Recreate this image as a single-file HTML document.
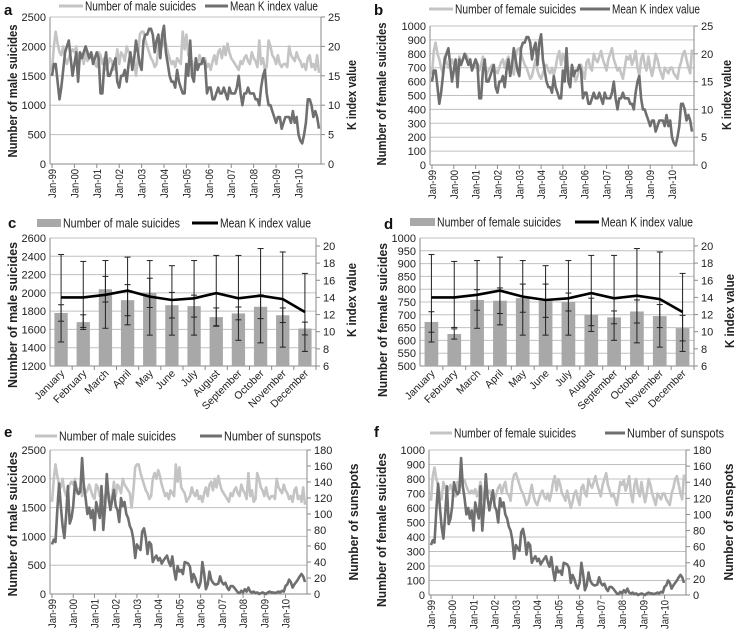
<!DOCTYPE html>
<html><head><meta charset="utf-8"><style>
html,body{margin:0;padding:0;background:#fff}
svg{display:block;font-family:"Liberation Sans",sans-serif}
</style></head><body>
<svg id="fig" width="738" height="636" viewBox="0 0 738 636"></svg>
<script>
const kIndex=[15,17,17,14,11,13,16,19,20,21,18,15,17,19,14,19,18,19,20,19,18,19,17,18,19,18,12,12,17,19,15,15,16,17,18,14,13,15,15,16,14,17,19,16,18,21,19,17,16,21,22,22,23,23,22,19,21,22,18,22,23.5,19,17,15,14,14,13,16,14,13,12,12,17,15,21,15,14,18,16,17,17,18,17,12,13,13,11,11,12,13,12,12,13,12,11,13,12,12,12,13,15,12,10,12,12,13,12,12,12,11,11,10,13,15,16,12,10,10,9,8,7,8,8,6,7,8,8,8,7,9,7,8,5,4,3.5,5,7,11,11,10,8,9,8,6];
const maleSuicides=[1600,2000,2250,2050,1900,1850,2000,1800,1700,1800,1900,1950,1900,2000,1750,1800,1850,1700,1900,1750,1800,1900,1800,1700,1650,1900,1850,1700,1800,1600,1700,1800,1750,1600,1700,1950,1700,1900,1850,1750,2000,1900,1850,1800,1750,1500,1800,2200,2250,2250,2100,2000,1900,1800,1750,1650,1700,2000,2100,2000,2150,2050,1900,1800,1700,1750,1650,1800,1750,1700,2250,1950,2200,1850,1800,1750,1600,1650,1700,1850,1750,1700,1800,1650,1700,1600,1750,1850,1700,1900,1950,1800,2000,1850,2050,1900,1800,1750,1700,1650,1600,1750,1700,1800,1850,1750,1700,1900,1800,1750,1650,2100,1700,1800,1600,1650,2100,2000,1850,1800,1700,1850,1700,1650,1700,1700,1650,2000,1850,1800,1750,1900,1800,1750,1650,1700,1600,1800,1850,1650,1700,1600,1850,1550];
const femaleSuicides=[650,820,880,800,760,700,660,780,740,700,730,760,720,700,680,780,740,760,800,790,750,720,700,720,700,730,680,720,780,700,650,680,700,720,690,680,660,700,740,760,700,750,780,700,690,650,780,830,840,800,760,720,700,660,620,640,700,760,680,640,620,660,700,720,680,660,700,650,700,780,820,720,800,760,700,680,650,720,660,600,640,700,720,660,620,740,760,700,680,800,760,740,780,820,760,720,680,760,800,840,760,720,680,700,660,620,700,780,760,790,720,760,820,700,640,760,800,720,680,780,700,640,700,800,760,700,660,620,700,680,660,700,700,660,640,620,700,740,800,820,760,700,660,830];
const sunspots=[62,68,65,105,138,110,85,70,100,135,88,95,110,140,130,125,128,170,135,120,100,108,95,105,80,115,105,95,135,80,110,150,120,105,118,130,110,105,90,120,110,115,100,95,85,80,68,45,62,58,55,78,82,70,50,65,62,40,45,48,42,45,38,42,45,48,40,35,47,30,18,35,28,30,25,40,39,38,34,15,25,20,12,8,15,40,25,6,12,28,18,14,12,12,13,22,15,12,14,8,5,10,10,8,5,2,1,4,2,6,3,8,3,2,3,1,2,0,1,2,1,0,2,3,2,2,1,2,3,2,4,3,10,12,18,15,8,12,15,18,22,25,22,15];
const yearLabels=["Jan-99","Jan-00","Jan-01","Jan-02","Jan-03","Jan-04","Jan-05","Jan-06","Jan-07","Jan-08","Jan-09","Jan-10"];
const months=["January","February","March","April","May","June","July","August","September","October","November","December"];
const maleMonthly=[1780,1680,2040,1920,2000,1865,1855,1735,1775,1848,1755,1610];
const maleMonthlySd=[90,80,140,170,160,140,120,100,70,130,80,70];
const femaleMonthly=[672,625,758,755,765,755,750,700,690,713,695,648];
const femaleMonthlySd=[40,20,40,50,55,65,35,65,25,45,45,50];
const kMonthly=[14,14,14.3,14.8,14.1,13.7,13.9,14.5,13.9,14.2,13.8,12.3];
const kMonthlyHi=[19,18.2,18.3,18.7,18.3,17.7,18.3,18.9,18.9,19.7,19.3,16.8];
const kMonthlyLo=[8.8,10.5,10.4,10.8,9.6,9.6,9.6,10.7,9,8.7,8.2,7.7];

const NS="http://www.w3.org/2000/svg";
const svg=document.getElementById('fig');
function mk(tag,attrs,parent){const e=document.createElementNS(NS,tag);for(const k in attrs)e.setAttribute(k,attrs[k]);(parent||svg).appendChild(e);return e;}
function txt(s,attrs,parent){const e=mk('text',attrs,parent);e.textContent=s;return e;}
const LIGHT="#c4c4c4",DARK="#6f6f6f",GRID="#c0c0c0",AX="#8a8a8a";

function axesFrame(g,p){
  p.lt.forEach(v=>{const y=p.yl(v);
    if(v!==p.lmin){const gl=mk('line',{x1:p.x0,x2:p.x1,y1:y,y2:y,stroke:GRID,'stroke-width':1},g);
    }
    const t=txt(String(v),{x:p.x0-4,y:y+4,'text-anchor':'end','font-size':11,fill:'#222'},g);
    });
  p.rt.forEach(v=>{const y=p.yr(v);
    mk('line',{x1:p.x1,x2:p.x1+4,y1:y,y2:y,stroke:AX},g);
    const t=txt(String(v),{x:p.x1+7,y:y+4,'font-size':11,fill:'#222'},g);
    });
  const la=mk('line',{x1:p.x0,x2:p.x0,y1:p.y0,y2:p.y1,stroke:AX},g);
  
  const ra=mk('line',{x1:p.x1,x2:p.x1,y1:p.y0,y2:p.y1,stroke:AX},g);
  
  const ba=mk('line',{x1:p.x0,x2:p.x1,y1:p.y1,y2:p.y1,stroke:AX},g);
  
  const lt=txt(p.ltitle,{transform:`translate(${p.ltx},${p.lty}) rotate(-90)`,'text-anchor':'middle','font-size':13,'font-weight':'bold',fill:'#222',textLength:p.ltl,lengthAdjust:'spacingAndGlyphs'},g);
  
  const rtt=txt(p.rtitle,{transform:`translate(${p.rtx},${p.rty}) rotate(-90)`,'text-anchor':'middle','font-size':13,'font-weight':'bold',fill:'#222',textLength:p.rtl,lengthAdjust:'spacingAndGlyphs'},g);
  
  const pl=txt(p.letter,{x:p.lx,y:p.ly,'font-size':15,'font-weight':'bold',fill:'#111'},g);
  
}
function legend(g,items){
  items.forEach(it=>{
    const lg=mk('g',{},g);
    
    if(it.bar) mk('rect',{x:it.x,y:it.y-4,width:it.w,height:8,fill:it.c},lg);
    else mk('line',{x1:it.x,x2:it.x+it.w,y1:it.y,y2:it.y,stroke:it.c,'stroke-width':3},lg);
    txt(it.t,{x:it.x+it.w+2,y:it.y+4.5,'font-size':12.5,fill:'#222',textLength:it.tl,lengthAdjust:'spacingAndGlyphs'},lg);
  });
}
function series(g,vals,xf,yf,c,name){
  const d=vals.map((v,i)=>(i?'L':'M')+xf(i).toFixed(1)+','+yf(v).toFixed(1)).join('');
  const pth=mk('path',{d:d,fill:'none',stroke:c,'stroke-width':2.6,'stroke-linejoin':'round'},g);
  
}
function tsPanel(p){
  const g=mk('g',{});
  p.yl=v=>p.y1-(v-p.lmin)/(p.lmax-p.lmin)*(p.y1-p.y0);
  p.yr=v=>p.y1-(v-p.rmin)/(p.rmax-p.rmin)*(p.y1-p.y0);
  const n=p.s1.length, xf=i=>p.x0+2+i*(p.x1-p.x0-4)/(n-1);
  axesFrame(g,p);
  yearLabels.forEach((s,k)=>{const x=xf(k*12);
    mk('line',{x1:x,x2:x,y1:p.y1,y2:p.y1+4,stroke:AX},g);
    const t=txt(s,{transform:`translate(${x+4},${p.y1+5}) rotate(-90)`,'text-anchor':'end','font-size':11,fill:'#222',textLength:29,lengthAdjust:'spacingAndGlyphs'},g);
    });
  series(g,p.s1,xf,p.yl,LIGHT,p.n1);series(g,p.s2,xf,p.yr,DARK,p.n2);
  legend(g,p.leg);
}
function barPanel(p){
  const g=mk('g',{});
  p.yl=v=>p.y1-(v-p.lmin)/(p.lmax-p.lmin)*(p.y1-p.y0);
  p.yr=v=>p.y1-(v-p.rmin)/(p.rmax-p.rmin)*(p.y1-p.y0);
  axesFrame(g,p);
  const bw=(p.x1-p.x0)/12, xc=i=>p.x0+bw*(i+0.5);
  p.bars.forEach((v,i)=>{
    const r=mk('rect',{x:xc(i)-bw*0.3,y:p.yl(v),width:bw*0.6,height:p.y1-p.yl(v),fill:'#a8a8a8'},g);
    
  });
  const eb=(x,a,b)=>{mk('line',{x1:x,x2:x,y1:a,y2:b,stroke:'#222','stroke-width':1},g);
    mk('line',{x1:x-3,x2:x+3,y1:a,y2:a,stroke:'#222'},g);mk('line',{x1:x-3,x2:x+3,y1:b,y2:b,stroke:'#222'},g);};
  p.bars.forEach((v,i)=>{eb(xc(i),p.yl(v-p.sd[i]),p.yl(v+p.sd[i]));eb(xc(i),p.yr(kMonthlyLo[i]),p.yr(kMonthlyHi[i]));});
  const d=kMonthly.map((v,i)=>(i?'L':'M')+xc(i).toFixed(1)+','+p.yr(v).toFixed(1)).join('');
  const kl=mk('path',{d:d,fill:'none',stroke:'#000','stroke-width':2.6},g);
  
  months.forEach((m,i)=>{const x=xc(i);
    mk('line',{x1:p.x0+bw*(i+1),x2:p.x0+bw*(i+1),y1:p.y1,y2:p.y1+4,stroke:AX},g);
    const t=txt(m,{transform:`translate(${x+4},${p.y1+8}) rotate(-45)`,'text-anchor':'end','font-size':10.5,fill:'#222'},g);
    });
  legend(g,p.leg);
}
tsPanel({letter:'a',lx:4,ly:15,x0:50,x1:321,y0:17,y1:164,lmin:0,lmax:2500,lt:[0,500,1000,1500,2000,2500],rmin:0,rmax:25,rt:[0,5,10,15,20,25],
 s1:maleSuicides,s2:kIndex,n1:'male-suicides-line',n2:'k-index-line',ltitle:'Number of male suicides',ltx:17,lty:91,ltl:133,rtitle:'K index value',rtx:356,rty:95,rtl:70,
 leg:[{x:59,y:6,w:24,c:LIGHT,t:'Number of male suicides',tl:111},{x:205,y:6,w:23,c:DARK,t:'Mean K index value',tl:88}]});
tsPanel({letter:'b',lx:374,ly:15,x0:430,x1:694,y0:26,y1:165,lmin:0,lmax:1000,lt:[0,100,200,300,400,500,600,700,800,900,1000],rmin:0,rmax:25,rt:[0,5,10,15,20,25],
 s1:femaleSuicides,s2:kIndex,n1:'female-suicides-line',n2:'k-index-line',ltitle:'Number of female suicides',ltx:386,lty:94,ltl:143,rtitle:'K index value',rtx:731,rty:95,rtl:70,
 leg:[{x:429,y:9,w:24,c:LIGHT,t:'Number of female suicides',tl:121},{x:580,y:9,w:30,c:DARK,t:'Mean K index value',tl:88}]});
barPanel({letter:'c',lx:8,ly:228,x0:50,x1:316,y0:238,y1:366,lmin:1200,lmax:2600,lt:[1200,1400,1600,1800,2000,2200,2400,2600],rmin:6,rmax:20.93,rt:[6,8,10,12,14,16,18,20],
 bars:maleMonthly,sd:maleMonthlySd,ltitle:'Number of  male suicides',ltx:17,lty:315,ltl:146,rtitle:'K index value',rtx:356,rty:300,rtl:74,
 leg:[{x:37,y:223,w:24,c:'#a8a8a8',bar:true,t:'Number of male suicides',tl:117},{x:192,y:223,w:26,c:'#000',t:'Mean K index value',tl:91}]});
barPanel({letter:'d',lx:384,ly:229,x0:420,x1:694,y0:238,y1:366,lmin:500,lmax:1000,lt:[500,550,600,650,700,750,800,850,900,950,1000],rmin:6,rmax:20.93,rt:[6,8,10,12,14,16,18,20],
 bars:femaleMonthly,sd:femaleMonthlySd,ltitle:'Number of female suicides',ltx:387,lty:320,ltl:154,rtitle:'K index value',rtx:734,rty:311,rtl:74,
 leg:[{x:410,y:222,w:25,c:'#a8a8a8',bar:true,t:'Number of female suicides',tl:124},{x:575,y:222,w:24,c:'#000',t:'Mean K index value',tl:92}]});
tsPanel({letter:'e',lx:4,ly:437,x0:50,x1:307,y0:450,y1:594,lmin:0,lmax:2500,lt:[0,500,1000,1500,2000,2500],rmin:0,rmax:180,rt:[0,20,40,60,80,100,120,140,160,180],
 s1:maleSuicides,s2:sunspots,n1:'male-suicides-line',n2:'sunspots-line',ltitle:'Number of male suicides',ltx:17,lty:524,ltl:145,rtitle:'Number of sunspots',rtx:358,rty:522,rtl:117,
 leg:[{x:35,y:436,w:22,c:LIGHT,t:'Number of male suicides',tl:117},{x:200,y:436,w:22,c:DARK,t:'Number of sunspots',tl:97}]});
tsPanel({letter:'f',lx:374,ly:437,x0:429,x1:686,y0:450,y1:595,lmin:0,lmax:1000,lt:[0,100,200,300,400,500,600,700,800,900,1000],rmin:0,rmax:180,rt:[0,20,40,60,80,100,120,140,160,180],
 s1:femaleSuicides,s2:sunspots,n1:'female-suicides-line',n2:'sunspots-line',ltitle:'Number of female suicides',ltx:386,lty:530,ltl:154,rtitle:'Number of sunspots',rtx:733,rty:522,rtl:117,
 leg:[{x:430,y:433,w:22,c:LIGHT,t:'Number of female suicides',tl:122},{x:605,y:433,w:20,c:DARK,t:'Number of sunspots',tl:97}]});
</script>
</body></html>
